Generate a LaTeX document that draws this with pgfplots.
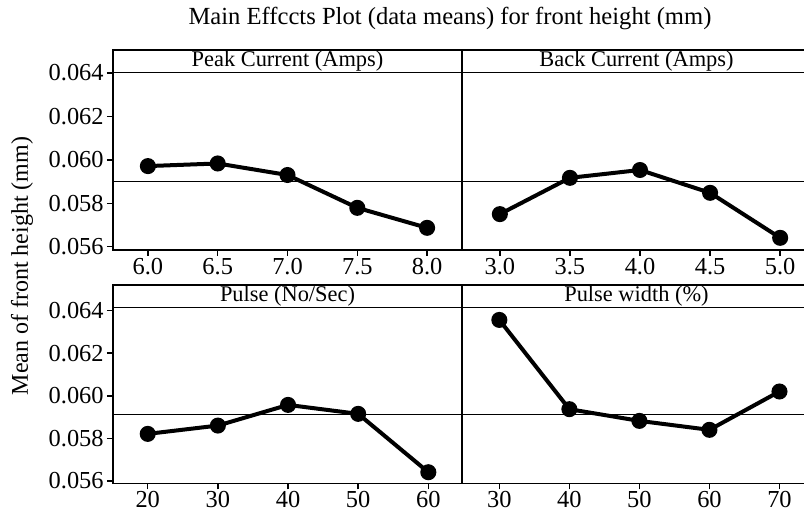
\documentclass[border=0pt]{standalone}
\usepackage{fontspec}
\setmainfont{Liberation Serif}
\usepackage{pgfplots}
\pgfplotsset{compat=1.18}

% one panel of the main effects plot
\pgfplotsset{
  effect/.style={
    scale only axis, width=174.5bp, anchor=south west,
    axis line style={line width=0.75bp},
    every tick/.style={black, line width=0.75bp},
    tick align=outside, xtick pos=bottom, ytick pos=left,
    major tick length=3bp,
    scaled ticks=false,
    tick label style={font=\fontsize{12.2bp}{14bp}\selectfont},
    xticklabel style={inner sep=1bp},
    yticklabel style={inner sep=1.5bp},
    /pgf/number format/assume math mode=true,
  },
  lefty/.style={ytick={0.056,0.058,0.060,0.062,0.064},
    yticklabel style={/pgf/number format/.cd, fixed, fixed zerofill, precision=3}},
  righty/.style={ytick=\empty},
  means/.style={black, line width=2bp, mark=*, mark size=3bp},
  grand/.style={black, line width=0.6bp},
}
\newcommand{\panelhead}[2]{%
  \draw[line width=0.75bp] (rel axis cs:0,#1) -- (rel axis cs:1,#1);
  \node[font=\fontsize{11.2bp}{13bp}\selectfont] at (rel axis cs:0.5,{(1+#1)/2}) {#2};}

\begin{document}
\begin{tikzpicture}
% top row
\begin{axis}[effect, lefty, at={(56.5bp,133bp)}, height=100bp,
  xmin=5.75, xmax=8.25, ymin=0.05585, ymax=0.06505,
  xtick={6,6.5,7,7.5,8},
  xticklabel style={/pgf/number format/.cd, fixed, fixed zerofill, precision=1}]
\addplot[grand] coordinates {(5.75,0.05899) (8.25,0.05899)};
\addplot[means] coordinates {(6.0,0.05971) (6.5,0.05983) (7.0,0.05930) (7.5,0.05779) (8.0,0.05687)};
\panelhead{0.8885}{Peak Current (Amps)}
\end{axis}
\begin{axis}[effect, righty, at={(231bp,133bp)}, height=100bp,
  xmin=2.73, xmax=5.22, ymin=0.05585, ymax=0.06505,
  xtick={3,3.5,4,4.5,5},
  xticklabel style={/pgf/number format/.cd, fixed, fixed zerofill, precision=1}]
\addplot[grand] coordinates {(2.73,0.05899) (5.22,0.05899)};
\addplot[means] coordinates {(3.0,0.05750) (3.5,0.05917) (4.0,0.05953) (4.5,0.05848) (5.0,0.05641)};
\panelhead{0.8885}{Back Current (Amps)}
\end{axis}
% bottom row
\begin{axis}[effect, lefty, at={(56.5bp,16.35bp)}, height=99.15bp,
  xmin=15.05, xmax=64.8, ymin=0.05589, ymax=0.06520,
  xtick={20,30,40,50,60}]
\addplot[grand] coordinates {(15.05,0.05912) (64.8,0.05912)};
\addplot[means] coordinates {(20,0.05821) (30,0.05860) (40,0.05957) (50,0.05915) (60,0.05641)};
\panelhead{0.8875}{Pulse (No/Sec)}
\end{axis}
\begin{axis}[effect, righty, at={(231bp,16.35bp)}, height=99.15bp,
  xmin=24.67, xmax=74.5, ymin=0.05589, ymax=0.06520,
  xtick={30,40,50,60,70}]
\addplot[grand] coordinates {(24.67,0.05912) (74.5,0.05912)};
\addplot[means] coordinates {(30,0.06356) (40,0.05937) (50,0.05882) (60,0.05840) (70,0.06020)};
\panelhead{0.8875}{Pulse width (\%)}
\end{axis}
\node[font=\fontsize{12.3bp}{14bp}\selectfont] at (225bp,249bp)
  {Main Effccts Plot (data means) for front height (mm)};
\node[rotate=90, font=\fontsize{12bp}{14bp}\selectfont] at (11bp,125bp)
  {Mean of front height (mm)};
\pgfresetboundingbox
\useasboundingbox (0,0) rectangle (402bp,258bp);
\end{tikzpicture}
\end{document}
